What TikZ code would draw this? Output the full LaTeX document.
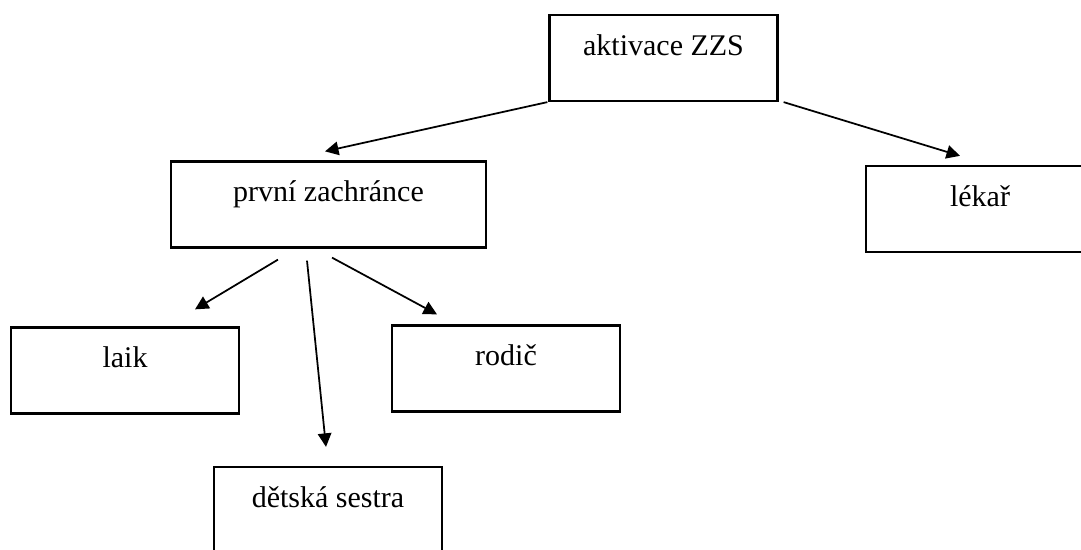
\documentclass[tikz,border=0pt]{standalone}
\usepackage{fontspec}
\setmainfont{Liberation Serif}
\usetikzlibrary{arrows.meta,positioning}

\begin{document}
\begin{tikzpicture}[
  x=0.4pt,y=-0.4pt,
  box/.style={rectangle,draw,line width=0.9pt,inner sep=0pt,minimum width=91.2pt,
              text height=16.2pt,text depth=18.2pt,font=\fontsize{12}{14}\selectfont},
  arr/.style={-{Triangle[length=5.4pt,width=5.4pt]},line width=0.7pt}
]
  \useasboundingbox (0,0) rectangle (1081,550);
  \clip (0,0) rectangle (1081,550);
  \node[box] (akt) at (663.5,58) {aktivace ZZS};
  \node[box,minimum width=126pt] (prvni) at (328.5,204.5) {první zachránce};
  \node[box] (lekar) at (980,209) {lékař};
  \node[box] (laik) at (125,370.5) {laik};
  \node[box] (rodic) at (506,368.5) {rodič};
  \node[box] (sestra) at (328,510) {dětská sestra};
  \draw[arr] ([xshift=-0.4pt]akt.south west) -- ([xshift=-1.4pt,yshift=3.6pt]prvni.north);
  \draw[arr] ([xshift=2pt]akt.south east) -- ([xshift=-8pt,yshift=3.6pt]lekar.north);
  \draw[arr] ([xshift=-20.2pt,yshift=-4.4pt]prvni.south) -- ([xshift=28pt,yshift=6.8pt]laik.north);
  \draw[arr] ([xshift=-8.6pt,yshift=-4.8pt]prvni.south) -- ([xshift=-0.8pt,yshift=7.6pt]sestra.north);
  \draw[arr] ([xshift=1.4pt,yshift=-3.6pt]prvni.south) -- ([xshift=-27.6pt,yshift=4pt]rodic.north);
\end{tikzpicture}
\end{document}
